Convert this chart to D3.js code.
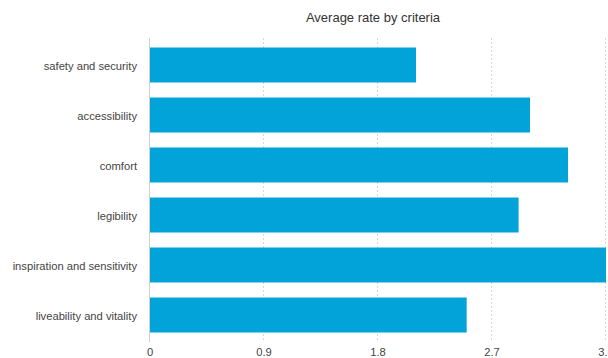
<!DOCTYPE html>
<html>
<head>
<meta charset="utf-8">
<script src="https://cdn.jsdelivr.net/npm/d3@7"></script>
<style>
  body { margin: 0; background: #fff; }
  svg { display: block; font-family: "Helvetica Neue", "Liberation Sans", Arial, sans-serif; }
  .grid line { stroke: #d8d8d8; stroke-dasharray: 2,2; }
</style>
</head>
<body>
<svg id="chart" width="608" height="358"></svg>
<script>
const criteria = [
  "safety and security",
  "accessibility",
  "comfort",
  "legibility",
  "inspiration and sensitivity",
  "liveability and vitality",
];
const rates = [2.1, 3.0, 3.3, 2.91, 3.6, 2.5];
const xTicks = [0, 0.9, 1.8, 2.7, 3.6];
const chartTitle = "Average rate by criteria";

const data = criteria.map((c, i) => ({ name: c, value: rates[i] }));

const svg = d3.select("#chart");
const margin = { top: 40, right: 2, bottom: 18, left: 150 };
const width = 608, height = 358;

const x = d3.scaleLinear().domain([0, 3.6]).range([margin.left, width - margin.right]);
const y = d3
  .scaleBand()
  .domain(criteria)
  .range([margin.top, margin.top + 300])
  .paddingInner(0.3)
  .paddingOuter(0.15);

// title
svg
  .append("text")
  .attr("x", (margin.left + width) / 2 - 6)
  .attr("y", 22)
  .attr("text-anchor", "middle")
  .attr("font-size", 13)
  .attr("fill", "#333")
  .text(chartTitle);

// vertical dashed grid
svg
  .append("g")
  .attr("class", "grid")
  .selectAll("line")
  .data(xTicks.slice(1))
  .join("line")
  .attr("x1", (d) => x(d) - 0.5)
  .attr("x2", (d) => x(d) - 0.5)
  .attr("y1", margin.top - 2)
  .attr("y2", margin.top + 302);

// bars
svg
  .append("g")
  .selectAll("rect")
  .data(data)
  .join("rect")
  .attr("x", x(0))
  .attr("y", (d) => y(d.name))
  .attr("width", (d) => x(d.value) - x(0))
  .attr("height", y.bandwidth())
  .attr("fill", "#02a3d8");

// y axis line
svg
  .append("line")
  .attr("x1", x(0) - 0.5)
  .attr("x2", x(0) - 0.5)
  .attr("y1", margin.top - 2)
  .attr("y2", margin.top + 302)
  .attr("stroke", "#d0d0d0");

// category labels
svg
  .append("g")
  .selectAll("text")
  .data(criteria)
  .join("text")
  .attr("x", margin.left - 13)
  .attr("y", (d) => y(d) + y.bandwidth() / 2 + 1)
  .attr("dy", "0.35em")
  .attr("text-anchor", "end")
  .attr("font-size", 11.2)
  .attr("fill", "#444")
  .text((d) => d);

// x tick labels
svg
  .append("g")
  .selectAll("text")
  .data(xTicks)
  .join("text")
  .attr("x", (d) => x(d))
  .attr("y", 352)
  .attr("dy", "0.35em")
  .attr("text-anchor", "middle")
  .attr("font-size", 11.2)
  .attr("fill", "#444")
  .text((d) => d);
</script>
</body>
</html>
